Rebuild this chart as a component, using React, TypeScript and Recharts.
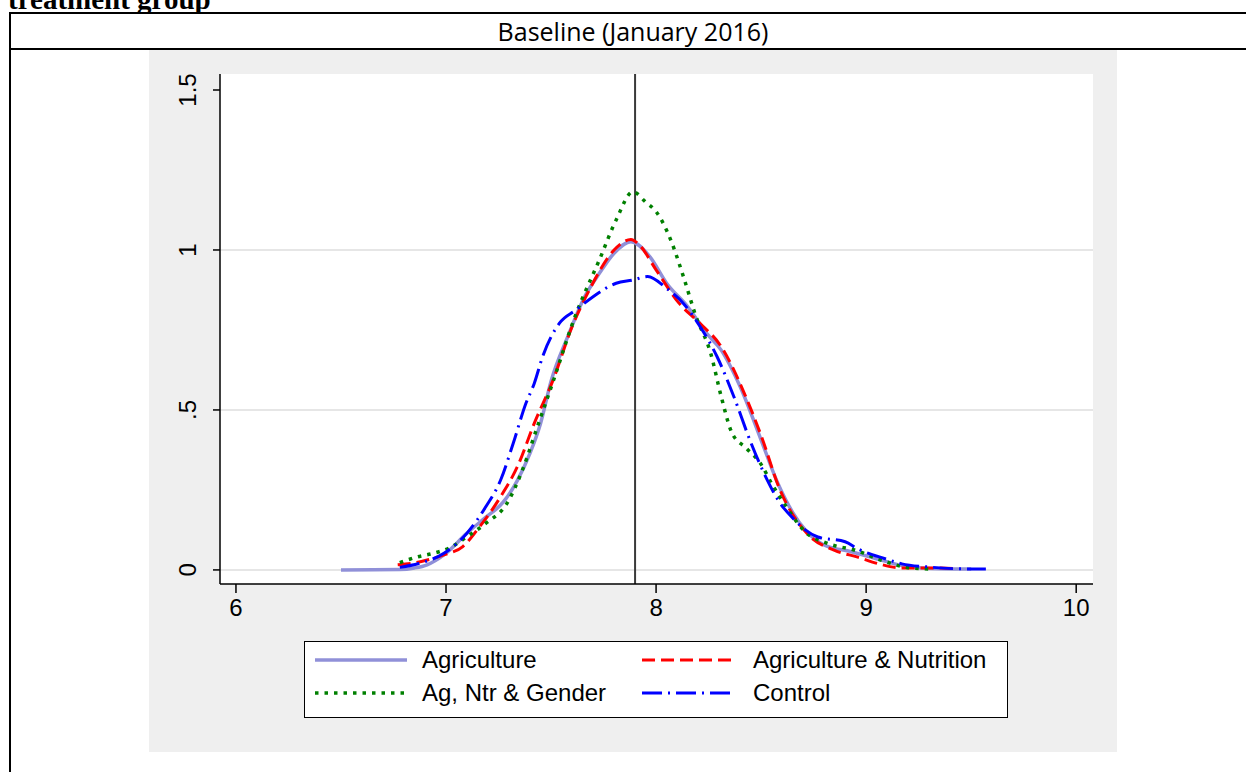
import { LineChart, Line, XAxis, YAxis, CartesianGrid, ReferenceLine } from 'recharts';

// Kernel density estimates of log consumption, one list of [x, density] per arm
const agriculture: [number, number][] = [
  [6.5, 0], [6.78, 0.001], [6.85, 0.006], [6.91, 0.016], [6.99, 0.047], [7.1, 0.115],
  [7.19, 0.165], [7.27, 0.21], [7.34, 0.28], [7.4, 0.365], [7.45, 0.458], [7.5, 0.59],
  [7.58, 0.73], [7.66, 0.854], [7.73, 0.927], [7.8, 0.99], [7.88, 1.026], [7.97, 0.979],
  [8.05, 0.896], [8.15, 0.823], [8.24, 0.74], [8.31, 0.687], [8.4, 0.573], [8.5, 0.406],
  [8.58, 0.27], [8.65, 0.18], [8.71, 0.125], [8.8, 0.078], [8.93, 0.057], [9.07, 0.031],
  [9.2, 0.01], [9.35, 0.004], [9.5, 0.003],
];

const agNutrition: [number, number][] = [
  [6.77, 0.016], [6.85, 0.022], [6.91, 0.031], [6.99, 0.047], [7.08, 0.073], [7.16, 0.135],
  [7.26, 0.229], [7.34, 0.323], [7.42, 0.458], [7.51, 0.594], [7.6, 0.76], [7.69, 0.885],
  [7.8, 1.0], [7.88, 1.033], [7.92, 1.016], [8.0, 0.938], [8.11, 0.833], [8.21, 0.77],
  [8.31, 0.698], [8.42, 0.552], [8.5, 0.42], [8.59, 0.25], [8.72, 0.113], [8.85, 0.061],
  [8.96, 0.04], [9.06, 0.019], [9.17, 0.006], [9.36, 0.006], [9.42, 0.004],
];

const agNtrGender: [number, number][] = [
  [6.78, 0.023], [6.86, 0.04], [6.94, 0.052], [7.02, 0.07], [7.1, 0.104], [7.19, 0.146],
  [7.29, 0.208], [7.37, 0.323], [7.43, 0.438], [7.5, 0.57], [7.62, 0.802], [7.73, 0.969],
  [7.81, 1.094], [7.89, 1.182], [7.95, 1.15], [8.0, 1.12], [8.07, 1.031], [8.13, 0.917],
  [8.19, 0.792], [8.26, 0.677], [8.31, 0.542], [8.36, 0.43], [8.43, 0.38], [8.5, 0.33],
  [8.55, 0.27], [8.62, 0.197], [8.71, 0.119], [8.82, 0.082], [8.95, 0.061], [9.07, 0.031],
  [9.2, 0.007], [9.3, 0.003],
];

const control: [number, number][] = [
  [6.78, 0.008], [6.87, 0.02], [6.99, 0.052], [7.1, 0.115], [7.19, 0.198], [7.26, 0.281],
  [7.32, 0.396], [7.38, 0.52], [7.42, 0.583], [7.46, 0.667], [7.54, 0.771], [7.62, 0.813],
  [7.7, 0.854], [7.81, 0.896], [7.89, 0.906], [7.96, 0.917], [8.05, 0.88], [8.13, 0.833],
  [8.21, 0.76], [8.29, 0.667], [8.37, 0.542], [8.45, 0.4], [8.53, 0.28], [8.58, 0.219],
  [8.66, 0.156], [8.71, 0.125], [8.77, 0.103], [8.9, 0.088], [8.96, 0.066], [9.09, 0.035],
  [9.17, 0.019], [9.3, 0.009], [9.49, 0.003], [9.57, 0.003],
];

const xTicks = [6, 7, 8, 9, 10];
const yTicks = [0, 0.5, 1, 1.5];
const gridValues = [0, 0.5, 1];
const baselineMean = 7.9;

const SERIES = [
  { name: 'Agriculture', points: agriculture, color: '#9090d8', dash: undefined, width: 3.5 },
  { name: 'Agriculture & Nutrition', points: agNutrition, color: '#ff0000', dash: '13 6', width: 3 },
  { name: 'Ag, Ntr & Gender', points: agNtrGender, color: '#008000', dash: '3.5 6', width: 3.5 },
  { name: 'Control', points: control, color: '#0000ff', dash: '20 6 2 6', width: 3 },
];

const FONT = '"Liberation Sans", Arial, sans-serif';

const fmtY = (v: number) => (v === 0 ? '0' : v < 1 ? String(v).replace(/^0/, '') : String(v));

function YTick({ x, y, payload }: any) {
  const bx = x - 15;
  return (
    <text x={bx} y={y} transform={`rotate(-90 ${bx} ${y})`} textAnchor="middle" fontFamily={FONT} fontSize={24} fill="#000">
      {fmtY(payload.value)}
    </text>
  );
}

function XTick({ x, y, payload }: any) {
  return (
    <text x={x} y={y} dy={23} textAnchor="middle" fontFamily={FONT} fontSize={24} fill="#000">
      {payload.value}
    </text>
  );
}

function LegendSwatch({ s }: { s: (typeof SERIES)[number] }) {
  return (
    <svg width={96} height={8} style={{ display: 'block' }}>
      <line x1={2} x2={94} y1={4} y2={4} stroke={s.color} strokeWidth={s.width} strokeDasharray={s.dash} />
    </svg>
  );
}

export default function App() {
  return (
    <div style={{ position: 'absolute', left: 0, top: 0, width: 1246, height: 772, background: '#fff', overflow: 'hidden' }}>
      {/* caption, mostly hidden above the table */}
      <div style={{ position: 'absolute', left: 0, top: 0, width: 400, height: 12, overflow: 'hidden' }}>
        <div style={{ position: 'absolute', left: 8, top: -15, fontFamily: '"Liberation Serif", serif', fontWeight: 'bold', fontSize: 29, lineHeight: '29px', whiteSpace: 'nowrap' }}>
          treatment group
        </div>
      </div>

      {/* table frame */}
      <div style={{ position: 'absolute', left: 9, top: 12, width: 1240, height: 2, background: '#000' }} />
      <div style={{ position: 'absolute', left: 9, top: 48, width: 1240, height: 2, background: '#000' }} />
      <div style={{ position: 'absolute', left: 9, top: 12, width: 2, height: 772, background: '#000' }} />

      <div style={{ position: 'absolute', left: 0, top: 14, width: 1266, height: 34, lineHeight: '34px', textAlign: 'center', fontFamily: '"Open Sans", "Noto Sans", sans-serif', fontSize: 25 }}>
        Baseline (January 2016)
      </div>

      {/* graph region */}
      <div style={{ position: 'absolute', left: 149, top: 50, width: 968, height: 702, background: '#efefef' }} />

      <div style={{ position: 'absolute', left: 0, top: 0 }}>
        <LineChart width={1246} height={772} margin={{ top: 74, right: 153, bottom: 148, left: 160 }}>
          <CartesianGrid vertical={false} horizontalValues={gridValues} stroke="#e6e6e6" strokeWidth={2} fill="#ffffff" />
          <XAxis
            type="number"
            dataKey="x"
            domain={[5.924, 10.08]}
            ticks={xTicks}
            allowDataOverflow
            height={40}
            tickSize={9}
            tickMargin={0}
            tick={<XTick />}
            axisLine={{ stroke: '#000', strokeWidth: 1.5 }}
            tickLine={{ stroke: '#000', strokeWidth: 1.5 }}
          />
          <YAxis
            type="number"
            dataKey="y"
            domain={[-0.044, 1.55]}
            ticks={yTicks}
            allowDataOverflow
            width={60}
            tickSize={7}
            tickMargin={2}
            tick={<YTick />}
            axisLine={{ stroke: '#000', strokeWidth: 1.5 }}
            tickLine={{ stroke: '#000', strokeWidth: 1.5 }}
          />
          <ReferenceLine x={baselineMean} stroke="#3a3a3a" strokeWidth={2} />
          {SERIES.map((s) => (
            <Line
              key={s.name}
              data={s.points.map(([x, y]) => ({ x, y }))}
              dataKey="y"
              type="monotone"
              stroke={s.color}
              strokeWidth={s.width}
              strokeDasharray={s.dash}
              dot={false}
              activeDot={false}
              isAnimationActive={false}
            />
          ))}
        </LineChart>
      </div>

      {/* legend */}
      <div style={{ position: 'absolute', left: 304, top: 641, width: 702, height: 75, border: '1.5px solid #000', background: '#fff', fontFamily: FONT, fontSize: 24 }}>
        {SERIES.map((s, i) => (
          <div
            key={s.name}
            style={{
              position: 'absolute',
              left: i % 2 === 0 ? 8 : 335,
              top: i < 2 ? 3 : 36,
              height: 30,
              display: 'flex',
              alignItems: 'center',
              whiteSpace: 'nowrap',
            }}
          >
            <LegendSwatch s={s} />
            <span style={{ marginLeft: i % 2 === 0 ? 13 : 17 }}>{s.name}</span>
          </div>
        ))}
      </div>
    </div>
  );
}
